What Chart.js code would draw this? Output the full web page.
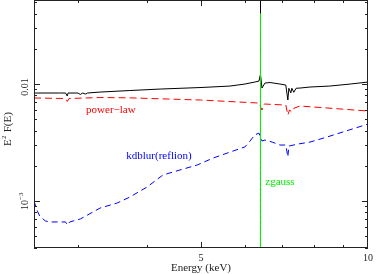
<!DOCTYPE html>
<html>
<head>
<meta charset="utf-8">
<script src="https://cdn.jsdelivr.net/npm/chart.js@4"></script>
<style>
  html, body { margin: 0; padding: 0; background: #fff; }
  #wrap { width: 381px; height: 274px; }
</style>
</head>
<body>
<div id="wrap"><canvas id="spec"></canvas></div>
<script>
// model components, E (keV) vs E^2 F(E)
var totalEnergy = [2.5, 2.78, 2.85, 2.87, 2.88, 3.0, 3.03, 3.06, 3.10, 3.12, 3.29, 3.72, 4.22, 5.0, 5.64, 6.0, 6.25, 6.36, 6.398, 6.40, 6.402, 6.44, 6.52, 6.66, 6.94, 7.11, 7.17, 7.20, 7.26, 7.29, 7.35, 7.42, 7.54, 7.86, 8.53, 9.29, 10];
var totalFlux   = [0.00838, 0.00838, 0.00838, 0.0079, 0.00838, 0.00838, 0.00815, 0.00838, 0.0082, 0.00838, 0.00854, 0.0088, 0.00906, 0.00934, 0.00961, 0.0100, 0.0104, 0.0106, 0.012, 0.09, 0.012, 0.00924, 0.0102, 0.0103, 0.0100, 0.0098, 0.0073, 0.0092, 0.0084, 0.0092, 0.0085, 0.0092, 0.00924, 0.00943, 0.00961, 0.0100, 0.0104];

var powerEnergy = [2.5, 2.85, 2.87, 2.89, 3.29, 3.72, 4.99, 6.36, 6.44, 6.5, 7.11, 7.17, 7.22, 7.29, 7.35, 7.54, 10];
var powerFlux   = [0.0076, 0.00752, 0.0071, 0.00752, 0.00767, 0.00762, 0.0073, 0.00688, 0.0060, 0.00675, 0.00661, 0.00543, 0.0060, 0.00576, 0.0062, 0.00649, 0.00588];

var reflEnergy = [2.5, 2.53, 2.56, 2.62, 2.67, 2.85, 2.87, 2.90, 3.03, 3.29, 3.53, 3.72, 4.0, 4.27, 4.58, 4.92, 5.26, 5.64, 6.0, 6.13, 6.25, 6.36, 6.44, 6.52, 6.72, 6.94, 7.11, 7.17, 7.20, 7.48, 7.86, 8.43, 10];
var reflFlux   = [0.0010, 0.000838, 0.000745, 0.000675, 0.000662, 0.000662, 0.000624, 0.000662, 0.000702, 0.000871, 0.000961, 0.00108, 0.00132, 0.00167, 0.00184, 0.00203, 0.00233, 0.00262, 0.0029, 0.00326, 0.00367, 0.00381, 0.00326, 0.00332, 0.00319, 0.00301, 0.00301, 0.00238, 0.00295, 0.00307, 0.00319, 0.00352, 0.00455];

var gaussEnergy = [6.397, 6.40, 6.403];
var gaussFlux   = [0.0001, 0.040, 0.0001];

// axis ticks
var xTicks = [3, 4, 5, 6, 7, 8, 9];
var xMajor = [5];
var xTickLabels = ['5', '10'];
var xLabelValues = [5, 10];
var yTicks = [4e-4, 5e-4, 6e-4, 7e-4, 8e-4, 9e-4, 1e-3, 2e-3, 3e-3, 4e-3, 5e-3, 6e-3, 7e-3, 8e-3, 9e-3, 1e-2, 2e-2, 3e-2, 4e-2, 5e-2];
var yMajor = [1e-3, 1e-2];

var serif = '"Liberation Serif", "DejaVu Serif", serif';

function pairs(xs, ys) {
  return xs.map(function (x, i) { return { x: x, y: ys[i] }; });
}

// frame, inward ticks and all the text (PGPLOT look)
var framePlugin = {
  id: 'frame',
  afterDraw: function (chart) {
    var ctx = chart.ctx;
    var a = chart.chartArea;
    var xs = chart.scales.x, ys = chart.scales.y;
    ctx.save();
    ctx.strokeStyle = '#222';
    ctx.lineWidth = 1;
    ctx.strokeRect(a.left + 0.5, a.top + 0.5, a.right - a.left - 1, a.bottom - a.top - 1);

    ctx.beginPath();
    xTicks.forEach(function (v) {
      var px = Math.round(xs.getPixelForValue(v)) + 0.5;
      var len = xMajor.indexOf(v) >= 0 ? 6 : 3;
      ctx.moveTo(px, a.bottom); ctx.lineTo(px, a.bottom - len);
      ctx.moveTo(px, a.top); ctx.lineTo(px, a.top + len);
    });
    yTicks.forEach(function (v) {
      var py = Math.round(ys.getPixelForValue(v)) + 0.5;
      var len = yMajor.indexOf(v) >= 0 ? 6 : 3;
      ctx.moveTo(a.left, py); ctx.lineTo(a.left + len, py);
      ctx.moveTo(a.right, py); ctx.lineTo(a.right - len, py);
    });
    ctx.stroke();

    ctx.fillStyle = '#222';
    ctx.textAlign = 'center';
    ctx.textBaseline = 'middle';
    ctx.font = '10px ' + serif;
    xLabelValues.forEach(function (v, i) {
      ctx.fillText(xTickLabels[i], xs.getPixelForValue(v), a.bottom + 10);
    });

    // y tick labels, rotated
    ctx.save();
    ctx.translate(25, ys.getPixelForValue(1e-2) + 3);
    ctx.rotate(-Math.PI / 2);
    ctx.fillText('0.01', 0, 0);
    ctx.restore();

    ctx.save();
    ctx.translate(25, ys.getPixelForValue(1e-3));
    ctx.rotate(-Math.PI / 2);
    ctx.textAlign = 'right';
    ctx.fillText('10', 1, 0);
    ctx.textAlign = 'left';
    ctx.font = '7px ' + serif;
    ctx.fillText('\u22123', 1, -4);
    ctx.restore();

    // axis titles
    ctx.font = '11px ' + serif;
    ctx.fillText('Energy (keV)', (a.left + a.right) / 2, a.bottom + 20);

    ctx.save();
    ctx.translate(8, 127);
    ctx.rotate(-Math.PI / 2);
    ctx.textAlign = 'left';
    ctx.fillText('E', -19, 0);
    ctx.font = '7px ' + serif;
    ctx.fillText('2', -12, -4);
    ctx.font = '11px ' + serif;
    ctx.fillText(' F(E)', -8, 0);
    ctx.restore();

    // component labels
    ctx.textAlign = 'center';
    ctx.fillStyle = '#ff0000';
    ctx.fillText('power\u2212law', xs.getPixelForValue(3.44), ys.getPixelForValue(0.0060));
    ctx.fillStyle = '#0000ff';
    ctx.fillText('kdblur(reflion)', xs.getPixelForValue(4.20), ys.getPixelForValue(0.00243));
    ctx.fillStyle = '#00ee00';
    ctx.fillText('zgauss', xs.getPixelForValue(6.94), ys.getPixelForValue(0.00145));
    ctx.restore();
  }
};

// first dataset ends up on top
new Chart(document.getElementById('spec'), {
  type: 'line',
  data: {
    datasets: [
      {
        label: 'zgauss',
        data: pairs(gaussEnergy, gaussFlux),
        borderColor: '#00ee00',
        borderDash: [9, 2],
        borderWidth: 1,
        pointRadius: 0,
        tension: 0
      },
      {
        label: 'total',
        data: pairs(totalEnergy, totalFlux),
        borderColor: '#000000',
        borderWidth: 1,
        pointRadius: 0,
        tension: 0
      },
      {
        label: 'power-law',
        data: pairs(powerEnergy, powerFlux),
        borderColor: '#ff0000',
        borderDash: [7, 4],
        borderWidth: 1,
        pointRadius: 0,
        tension: 0
      },
      {
        label: 'kdblur(reflion)',
        data: pairs(reflEnergy, reflFlux),
        borderColor: '#0000ff',
        borderDash: [6, 4],
        borderWidth: 1,
        pointRadius: 0,
        tension: 0
      }
    ]
  },
  options: {
    responsive: true,
    maintainAspectRatio: false,
    animation: false,
    layout: { padding: { left: 34, right: 13, top: 0, bottom: 26 } },
    plugins: {
      legend: { display: false },
      tooltip: { enabled: false }
    },
    scales: {
      x: { type: 'logarithmic', min: 2.5, max: 10, display: false },
      y: { type: 'logarithmic', min: 3.965e-4, max: 0.0523, display: false }
    }
  },
  plugins: [framePlugin]
});
</script>
</body>
</html>
